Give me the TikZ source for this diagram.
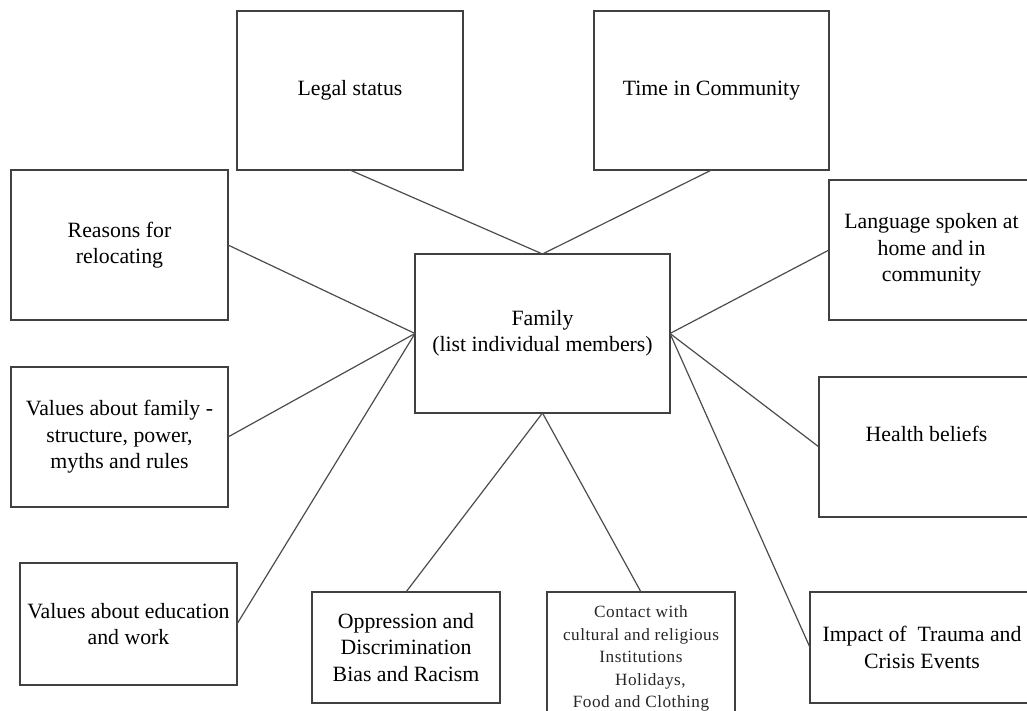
\documentclass[tikz,border=0pt]{standalone}
\usepackage{fontspec}
\setmainfont{Liberation Serif}
\newfontfamily\contactfont[LetterSpace=3]{Liberation Serif}

\tikzset{
  box/.style={draw=black!75,line width=1.3pt,rectangle,inner sep=0pt,outer sep=0pt,
    align=center,font=\fontsize{21.8}{26.5}\selectfont},
  link/.style={draw=black!70,line width=1.2pt}
}

\begin{document}
\begin{tikzpicture}[x=1pt,y=-1pt]

        \useasboundingbox (0,0) rectangle (1027,711);
        \clip (0,0) rectangle (1027,711);

        \begin{scope}[every node/.style={box}]
          \node[minimum width=255,minimum height=159] (family)   at (542.5,333.5) {Family\\(list individual members)};
          \node[minimum width=226,minimum height=159] (legal)    at (350,90.5)    {Legal status};
          \node[minimum width=235,minimum height=159] (time)     at (711.5,90.5)  {Time in Community};
          \node[minimum width=217,minimum height=150] (reasons)  at (119.5,245)   {Reasons for\\relocating};
          \node[minimum width=205,minimum height=140] (language) at (931.5,250)   {Language spoken at\\home and in\\community};
          \node[minimum width=217,minimum height=140] (valfam)   at (119.5,437)   {Values about family -\\structure, power,\\myths and rules};
          \node[minimum width=215,minimum height=140] (health)   at (926.5,447)   {Health beliefs\\{}};
          \node[minimum width=217,minimum height=122] (valedu)   at (128.5,624)   {Values about education\\and work};
          \node[minimum width=188,minimum height=111] (oppress)  at (406,647.5)   {Oppression and\\Discrimination\\Bias and Racism};
          \node[minimum width=188,minimum height=133,
                font=\contactfont\fontsize{17.2}{22.5}\selectfont,text=black!85]
                                                      (contact)  at (641,658.5)   {Contact with\\cultural and religious\\Institutions\\\hspace*{1.1em}Holidays,\\Food and Clothing};
          \node[minimum width=224,minimum height=111] (trauma)   at (922,647.5)   {Impact of~ Trauma and\\Crisis Events};
        \end{scope}

        \begin{scope}[every edge/.style={link}]
          \path (legal.south)   edge (family.north);
          \path (time.south)    edge (family.north);
          \path (reasons.east)  edge (family.west);
          \path (valfam.east)   edge (family.west);
          \path (valedu.east)   edge (family.west);
          \path (language.west) edge (family.east);
          \path (health.west)   edge (family.east);
          \path (trauma.west)   edge (family.east);
          \path (oppress.north) edge (family.south);
          \path (contact.north) edge (family.south);
        \end{scope}

      \end{tikzpicture}
\end{document}
